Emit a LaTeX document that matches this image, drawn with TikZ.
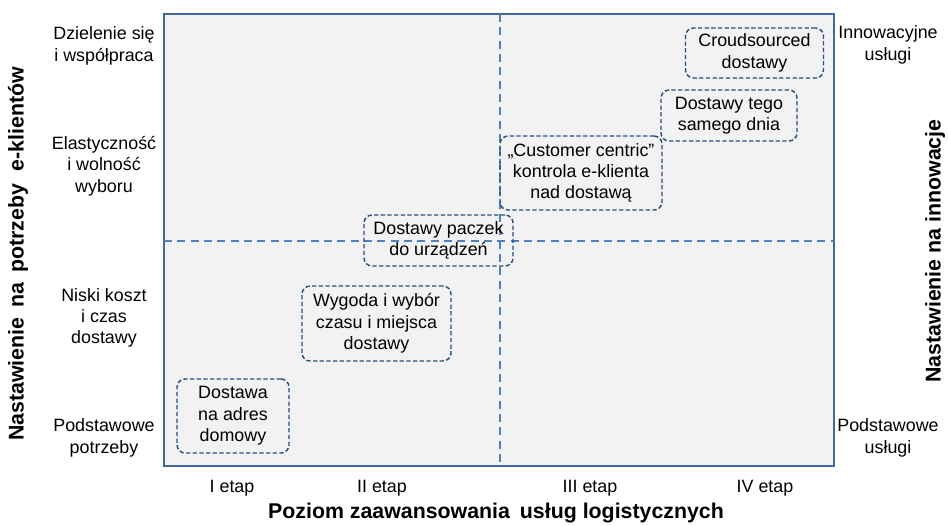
\documentclass[tikz,border=0pt]{standalone}
\usepackage{fontspec}
\setmainfont{Liberation Sans}
\begin{document}
\begin{tikzpicture}[x=0.75pt,y=-0.75pt,
  txt/.style={align=center,font=\fontsize{13.4}{16}\selectfont,text=black,inner sep=0pt},
  ttl/.style={align=center,font=\fontsize{16}{19}\selectfont\bfseries,text=black,inner sep=0pt},
  stage/.style={draw=boxblue,dashed,dash pattern=on 3.2pt off 1.8pt,line width=1.1pt,rounded corners=6pt,align=center,font=\fontsize{13.4}{16}\selectfont,inner sep=0pt},
  midline/.style={draw=lineblue,line width=0.9pt,dash pattern=on 6pt off 4pt}]
\definecolor{frameblue}{HTML}{44689A}
\definecolor{boxblue}{HTML}{2A4F80}
\definecolor{lineblue}{HTML}{4F7FBF}
\definecolor{bgfill}{HTML}{F2F2F2}
\useasboundingbox (0,0) rectangle (948,525);
% frame
\node[draw=frameblue,fill=bgfill,line width=2.2pt,minimum width=670*0.75pt,minimum height=452*0.75pt,inner sep=0pt] (frame) at (499,240) {};
% dashed axes
\coordinate (vt) at (500,14); \coordinate (vb) at (500,466);
\coordinate (hl) at (164,241); \coordinate (hr) at (834,241);
\draw[midline] (vt) -- (vb);
\draw[midline] (hl) -- (hr);
% stage boxes
\node[stage,minimum width=112*0.75pt,minimum height=74*0.75pt] (b1) at (233,416) {Dostawa\\na adres\\domowy};
\node[stage,minimum width=149*0.75pt,minimum height=75*0.75pt] (b2) at (376.5,323.5) {Wygoda i wybór\\czasu i miejsca\\dostawy};
\node[stage,minimum width=149*0.75pt,minimum height=51*0.75pt] (b3) at (438.5,240.5) {Dostawy paczek\\do urządzeń};
\node[stage,minimum width=162*0.75pt,minimum height=74*0.75pt] (b4) at (581,173) {„Customer centric”\\kontrola e-klienta\\nad dostawą};
\node[stage,minimum width=136*0.75pt,minimum height=51*0.75pt] (b5) at (729,115.5) {Dostawy tego\\samego dnia};
\node[stage,minimum width=138*0.75pt,minimum height=50*0.75pt] (b6) at (754.5,53) {Croudsourced\\dostawy};
% left labels
\node[txt] (l1) at (104,46) {Dzielenie się\\i współpraca};
\node[txt] (l2) at (104,166) {Elastyczność\\i wolność\\wyboru};
\node[txt] (l3) at (104,318) {Niski koszt\\i czas\\dostawy};
\node[txt] (l4) at (104,438) {Podstawowe\\potrzeby};
% right labels
\node[txt] (r1) at (888,45) {Innowacyjne\\usługi};
\node[txt] (r2) at (888,438) {Podstawowe\\usługi};
% bottom labels
\node[txt] (e1) at (232,488) {I etap};
\node[txt] (e2) at (382,488) {II etap};
\node[txt] (e3) at (590,488) {III etap};
\node[txt] (e4) at (765,488) {IV etap};
% axis titles
\node[ttl] (tx) at (496,513) {Poziom zaawansowania\hspace{3pt} usług logistycznych};
\node[ttl,rotate=90] (tyl) at (18,254) {Nastawienie\hspace{3pt} na\hspace{3pt} potrzeby\hspace{5pt} e-klientów};
\node[ttl,rotate=90] (tyr) at (935,251) {Nastawienie na innowacje};
\end{tikzpicture}
\end{document}
